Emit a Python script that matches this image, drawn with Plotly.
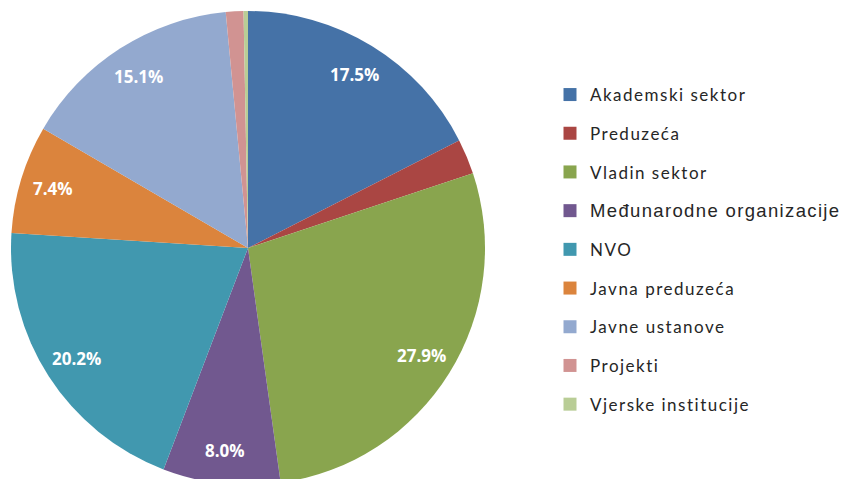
import math
import plotly.graph_objects as go

labels = ["Akademski sektor", "Preduzeća", "Vladin sektor", "Međunarodne organizacije",
          "NVO", "Javna preduzeća", "Javne ustanove", "Projekti", "Vjerske institucije"]
values = [17.5, 2.4, 27.9, 8.0, 20.2, 7.4, 15.1, 1.2, 0.3]
shown_labels = ["17.5%", "", "27.9%", "8.0%", "20.2%", "7.4%", "15.1%", "", ""]
colors = ["#4572A7", "#AA4643", "#89A54E", "#71588F", "#4198AF",
          "#DB843D", "#93A9CF", "#D19392", "#B9CD96"]

W, H = 852, 479
# pie geometry in figure pixels
cx, cy, R = 240, 240, 237

fig = go.Figure()
fig.add_trace(go.Pie(
    labels=labels,
    values=values,
    sort=False,
    direction="clockwise",
    rotation=0,
    marker=dict(colors=colors, line=dict(width=0)),
    textinfo="none",
    hoverinfo="label+percent",
    showlegend=False,
    domain=dict(x=[(cx - R) / W, (cx + R) / W], y=[(H - cy - R) / H, (H - cy + R) / H]),
))

# legend entries (one per slice, same colours)
for lab, col in zip(labels, colors):
    if lab == "Međunarodne organizacije":
        name = '<span style="font-family:Liberation Sans;font-size:18.5px;letter-spacing:1.35px">' + lab + "</span>"
    else:
        name = '<span style="letter-spacing:1.5px">' + lab + "</span>"
    fig.add_trace(go.Scatter(
        x=[None], y=[None], mode="markers", name=name, legendgroup=lab,
        marker=dict(symbol="square", size=13, color=col),
        hoverinfo="skip",
    ))

# value labels near the outer edge of each slice
total = sum(values)
cum = 0.0
annotations = []
for v, t in zip(values, shown_labels):
    mid = (cum + v / 2) / total * 2 * math.pi
    cum += v
    if not t:
        continue
    rr = 0.86 * R
    px = cx + rr * math.sin(mid)
    py = cy - rr * math.cos(mid)
    annotations.append(dict(x=px / W, y=1 - py / H, xref="paper", yref="paper",
                            xanchor="center", yanchor="middle",
                            text=t, showarrow=False,
                            font=dict(family="Open Sans", size=17, color="white", weight="bold")))

fig.update_layout(
    width=W, height=H,
    margin=dict(l=0, r=0, t=0, b=0),
    paper_bgcolor="white",
    plot_bgcolor="white",
    xaxis=dict(visible=False),
    yaxis=dict(visible=False),
    showlegend=True,
    legend=dict(x=542 / W, y=1 - 69 / H, xanchor="left", yanchor="top",
                font=dict(family="Lato", size=17, color="#262626"),
                tracegroupgap=13.6, traceorder="grouped", itemclick=False),
    annotations=annotations,
)

fig.write_html("out.html")
